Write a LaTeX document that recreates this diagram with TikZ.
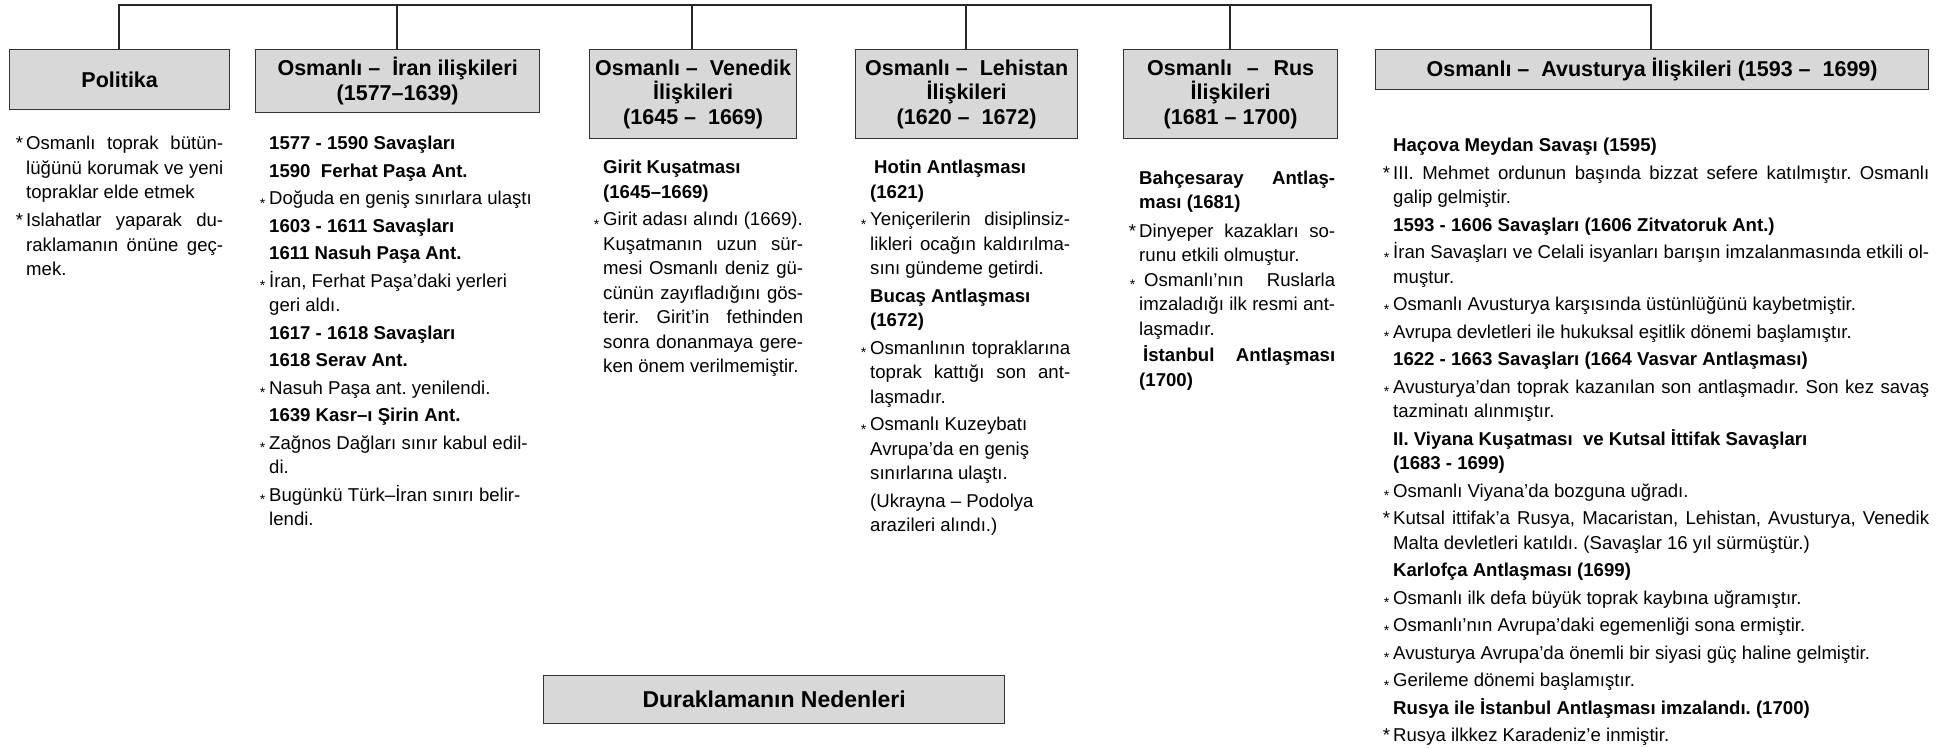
\documentclass[tikz,border=0pt]{standalone}
\usepackage{fontspec}
\setmainfont{Liberation Sans}
\definecolor{boxgray}{HTML}{D8D8D8}
\setlength{\parindent}{0pt}
\newcommand\ttl{\fontsize{21.5}{24.5}\selectfont\bfseries}
\newcommand\bdy{\fontsize{18.6}{24.5}\selectfont\frenchspacing}
\newcommand\Sp{\spaceskip=0pt\xspaceskip=0pt\relax\strut}
\newcommand\J[1]{\leavevmode\makebox[\linewidth][s]{\spaceskip=0pt\xspaceskip=0pt\relax #1}}
\newcommand\BB{\leavevmode\llap{*\hspace{3pt}}}
\newcommand\Bs{\leavevmode\llap{\raisebox{-0.35ex}{\fontsize{14}{14}\selectfont *}\hspace{4pt}}}
\newcommand\gp{\\[3pt]}
\tikzset{
  tbox/.style={draw=black!80, line width=1.3pt, fill=boxgray, inner sep=0pt, align=center, anchor=north west, font=\ttl},
  col/.style={inner sep=0pt, anchor=north west, align=left, font=\bdy, text width=#1},
  link/.style={draw=black!85, line width=1.7pt},
}
\begin{document}
\begin{tikzpicture}[x=1pt,y=-1pt]
\useasboundingbox[fill=white] (0,0) rectangle (1945,747);
% heading boxes
\node[tbox, minimum width=220pt, minimum height=60pt] (pol) at (9,49) {Politika};
\node[tbox, minimum width=284pt, minimum height=63pt] (iran) at (255,49) {Osmanlı –\ \ İran ilişkileri\\(1577–1639)};
\node[tbox, minimum width=207pt, minimum height=89pt] (ven) at (589,49) {Osmanlı –\ \ Venedik\\İlişkileri\\(1645 –\ \ 1669)};
\node[tbox, minimum width=222pt, minimum height=89pt] (leh) at (855,49) {Osmanlı –\ \ Lehistan\\İlişkileri\\(1620 –\ \ 1672)};
\node[tbox, minimum width=214pt, minimum height=89pt] (rus) at (1123,49) {\makebox[167pt][s]{Osmanlı – Rus}\\İlişkileri\\(1681 – 1700)};
\node[tbox, minimum width=553pt, minimum height=40pt] (avu) at (1375,49) {Osmanlı –\ \ Avusturya İlişkileri (1593 –\ \ 1699)};
\node[tbox, minimum width=461pt, minimum height=48pt, font=\fontsize{23}{26}\selectfont\bfseries] (dur) at (543,675) {Duraklamanın Nedenleri};
% connectors
\coordinate (tPol) at (119,5);
\coordinate (tIran) at (397,5);
\coordinate (tVen) at (692,5);
\coordinate (tLeh) at (966,5);
\coordinate (tRus) at (1230,5);
\coordinate (tAvu) at (1651,5);
\draw[link] (tPol |- pol.north) -- (tPol) -- (tAvu) -- (tAvu |- avu.north);
\draw[link] (tIran) -- (tIran |- iran.north);
\draw[link] (tVen) -- (tVen |- ven.north);
\draw[link] (tLeh) -- (tLeh |- leh.north);
\draw[link] (tRus) -- (tRus |- rus.north);
% columns
\node[col=197pt] (polT) at (26,132.5) {\Sp\J{\BB Osmanlı toprak bütün-}\\
\J{lüğünü korumak ve yeni}\\
topraklar elde etmek\\[3.5pt]
\J{\BB Islahatlar yaparak du-}\\
\J{raklamanın önüne geç-}\\
mek.};
\node[col=275pt] (iranT) at (269,132.5) {\Sp\textbf{1577 - 1590 Savaşları}\gp
\textbf{1590\ \ Ferhat Paşa Ant.}\gp
\Bs Doğuda en geniş sınırlara ulaştı\gp
\textbf{1603 - 1611 Savaşları}\gp
\textbf{1611 Nasuh Paşa Ant.}\gp
\Bs İran, Ferhat Paşa’daki yerleri\\
geri aldı.\gp
\textbf{1617 - 1618 Savaşları}\gp
\textbf{1618 Serav Ant.}\gp
\Bs Nasuh Paşa ant. yenilendi.\gp
\textbf{1639 Kasr–ı Şirin Ant.}\gp
\Bs Zağnos Dağları sınır kabul edil-\\
di.\gp
\Bs Bugünkü Türk–İran sınırı belir-\\
lendi.};
\node[col=200pt] (venT) at (603,156.4) {\Sp\textbf{Girit Kuşatması}\\
\textbf{(1645–1669)}\gp
\Bs\mbox{Girit adası alındı (1669).}\\
\J{Kuşatmanın uzun sür-}\\
\J{mesi Osmanlı deniz gü-}\\
\J{cünün zayıfladığını gös-}\\
\J{terir. Girit’in fethinden}\\
\J{sonra donanmaya gere-}\\
ken önem verilmemiştir.};
\node[col=200pt] (lehT) at (870,156.4) {\Sp\hspace{4pt}\textbf{Hotin Antlaşması}\\
\textbf{(1621)}\gp
\J{\Bs Yeniçerilerin disiplinsiz-}\\
\J{likleri ocağın kaldırılma-}\\
sını gündeme getirdi.\gp
\textbf{Bucaş Antlaşması}\\
\textbf{(1672)}\gp
\J{\Bs Osmanlının topraklarına}\\
\J{toprak kattığı son ant-}\\
laşmadır.\gp
\Bs Osmanlı Kuzeybatı\\
Avrupa’da en geniş\\
sınırlarına ulaştı.\gp
(Ukrayna – Podolya\\
arazileri alındı.)};
\node[col=196pt] (rusT) at (1139,167) {\Sp\J{\textbf{Bahçesaray Antlaş-}}\\
\textbf{ması (1681)}\\[4pt]
\J{\BB Dinyeper kazakları so-}\\
runu etkili olmuştur.\\
\J{\Bs\hspace{5pt}Osmanlı’nın Ruslarla}\\
\J{imzaladığı ilk resmi ant-}\\
laşmadır.\\[2pt]
\J{\hspace{4pt}\textbf{İstanbul Antlaşması}}\\
\textbf{(1700)}};
\node[col=536pt] (avuT) at (1393,134.4) {\Sp\textbf{Haçova Meydan Savaşı (1595)}\gp
\J{\BB III. Mehmet ordunun başında bizzat sefere katılmıştır. Osmanlı}\\
galip gelmiştir.\gp
\textbf{1593 - 1606 Savaşları (1606 Zitvatoruk Ant.)}\gp
\J{\Bs İran Savaşları ve Celali isyanları barışın imzalanmasında etkili ol-}\\
muştur.\gp
\Bs Osmanlı Avusturya karşısında üstünlüğünü kaybetmiştir.\gp
\Bs Avrupa devletleri ile hukuksal eşitlik dönemi başlamıştır.\gp
\textbf{1622 - 1663 Savaşları (1664 Vasvar Antlaşması)}\gp
\J{\Bs Avusturya’dan toprak kazanılan son antlaşmadır. Son kez savaş}\\
tazminatı alınmıştır.\gp
\textbf{II. Viyana Kuşatması\ \ ve Kutsal İttifak Savaşları}\\
\textbf{(1683 - 1699)}\gp
\Bs Osmanlı Viyana’da bozguna uğradı.\gp
\J{\BB Kutsal ittifak’a Rusya, Macaristan, Lehistan, Avusturya, Venedik}\\
Malta devletleri katıldı. (Savaşlar 16 yıl sürmüştür.)\gp
\textbf{Karlofça Antlaşması (1699)}\gp
\Bs Osmanlı ilk defa büyük toprak kaybına uğramıştır.\gp
\Bs Osmanlı’nın Avrupa’daki egemenliği sona ermiştir.\gp
\Bs Avusturya Avrupa’da önemli bir siyasi güç haline gelmiştir.\gp
\Bs Gerileme dönemi başlamıştır.\gp
\textbf{Rusya ile İstanbul Antlaşması imzalandı. (1700)}\gp
\BB Rusya ilkkez Karadeniz’e inmiştir.};
\end{tikzpicture}
\end{document}
